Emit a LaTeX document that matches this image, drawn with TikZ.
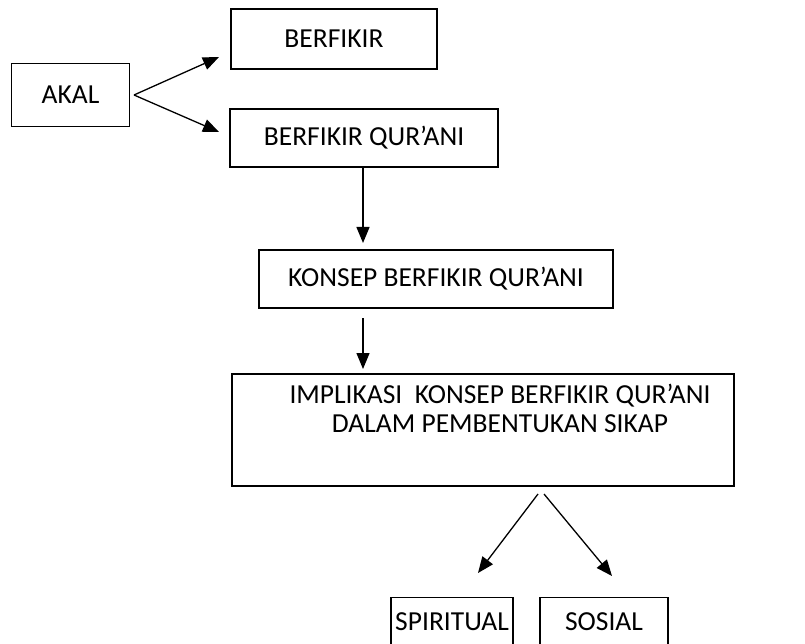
\documentclass[tikz,border=0pt]{standalone}
\usepackage{fontspec}
\setmainfont{Carlito}
\usetikzlibrary{arrows.meta}
\tikzset{
  box/.style={draw, line width=1.4pt, inner sep=0pt, font=\fontsize{27.5}{29}\selectfont},
  arr/.style={line width=1.3pt, -{Triangle[length=16pt,width=13pt]}},
  lbl/.style={inner sep=0pt, font=\fontsize{27.5}{29}\selectfont, align=center}
}
\begin{document}
\begin{tikzpicture}[x=1pt,y=-1pt]
\useasboundingbox (0,0) rectangle (805,644);
\clip (0,0) rectangle (805,644);
% boxes
\node[box, minimum width=118pt, minimum height=63pt] (akal) at (70.5,95) {AKAL};
\node[box, minimum width=206pt, minimum height=60pt] (berf) at (334,39) {BERFIKIR};
\node[box, minimum width=268pt, minimum height=58pt] (bq) at (364,138) {BERFIKIR QUR’ANI};
\node[box, minimum width=354pt, minimum height=58pt] (konsep) at (436,279) {KONSEP BERFIKIR QUR’ANI};
\node[box, minimum width=502pt, minimum height=112pt] (impl) at (483,430) {};
\node[lbl] (impltxt) at (500,408) {IMPLIKASI\ \ KONSEP BERFIKIR QUR’ANI\\DALAM PEMBENTUKAN SIKAP};
\node[box, minimum width=122pt, minimum height=70pt, anchor=north] (spir) at (452,597) {};
\node[lbl] (spirtxt) at (452,622) {SPIRITUAL};
\node[box, minimum width=128pt, minimum height=70pt, anchor=north] (sos) at (604,597) {};
\node[lbl] (sostxt) at (604,622) {SOSIAL};
% connector points
\coordinate (ak0) at (134,95);
\coordinate (t1) at (219,57);
\coordinate (t2) at (219,132);
\coordinate (v1) at (363,243);
\coordinate (v2s) at (363,318);
\coordinate (v2) at (363,369);
\coordinate (b1s) at (538,494);
\coordinate (b2s) at (544,494);
\coordinate (b1) at (478,573);
\coordinate (b2) at (612,576);
% connectors
\draw[arr] (ak0) -- (t1);
\draw[arr] (ak0) -- (t2);
\draw[arr] (bq.south -| v1) -- (v1);
\draw[arr] (v2s) -- (v2);
\draw[arr] (b1s) -- (b1);
\draw[arr] (b2s) -- (b2);
\end{tikzpicture}
\end{document}
